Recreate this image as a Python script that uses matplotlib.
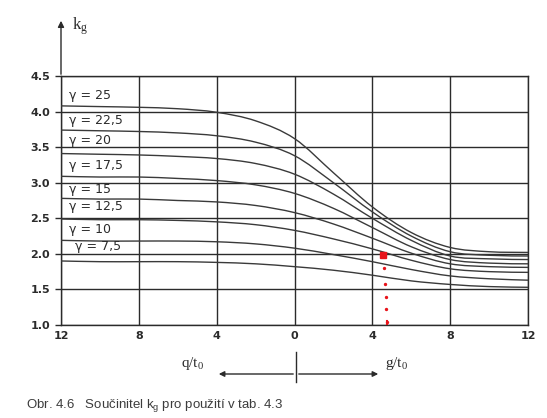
import numpy as np
import matplotlib
matplotlib.use("Agg")
import matplotlib.pyplot as plt
from matplotlib.path import Path
from matplotlib.patches import PathPatch

# ---------------- data ----------------
x_values = [-12, -10, -8, -6, -4, -2, 0, 2, 4, 6, 8, 10, 12]
gamma_names = ["γ = 25", "γ = 22,5", "γ = 20", "γ = 17,5",
               "γ = 15", "γ = 12,5", "γ = 10", "γ = 7,5"]
kg_25   = [4.08, 4.07, 4.06, 4.04, 3.99, 3.87, 3.62, 3.14, 2.66, 2.30, 2.09, 2.03, 2.02]
kg_22_5 = [3.74, 3.73, 3.72, 3.70, 3.66, 3.57, 3.38, 3.00, 2.59, 2.25, 2.03, 1.98, 1.97]
kg_20   = [3.41, 3.40, 3.39, 3.37, 3.34, 3.27, 3.12, 2.84, 2.50, 2.19, 1.97, 1.93, 1.92]
kg_17_5 = [3.09, 3.08, 3.08, 3.06, 3.03, 2.97, 2.85, 2.64, 2.37, 2.10, 1.92, 1.87, 1.86]
kg_15   = [2.78, 2.77, 2.77, 2.75, 2.73, 2.68, 2.58, 2.42, 2.22, 2.01, 1.86, 1.82, 1.81]
kg_12_5 = [2.49, 2.48, 2.48, 2.47, 2.45, 2.41, 2.33, 2.21, 2.07, 1.91, 1.79, 1.75, 1.74]
kg_10   = [2.19, 2.18, 2.18, 2.18, 2.17, 2.14, 2.08, 1.99, 1.89, 1.78, 1.69, 1.65, 1.63]
kg_7_5  = [1.90, 1.89, 1.89, 1.89, 1.88, 1.86, 1.82, 1.77, 1.70, 1.62, 1.57, 1.54, 1.53]
kg_series = [kg_25, kg_22_5, kg_20, kg_17_5, kg_15, kg_12_5, kg_10, kg_7_5]

y_ticks = [1.0, 1.5, 2.0, 2.5, 3.0, 3.5, 4.0, 4.5]
y_tick_labels = ["1.0", "1.5", "2.0", "2.5", "3.0", "3.5", "4.0", "4.5"]
x_ticks = [-12, -8, -4, 0, 4, 8, 12]
x_tick_labels = ["12", "8", "4", "0", "4", "8", "12"]

marker_point = (4.55, 1.98)          # red mark
marker_drop_x = [4.62, 4.65, 4.68, 4.72, 4.75]
marker_drop_y = [1.80, 1.58, 1.40, 1.22, 1.04]

# ---------------- layout ----------------
W, H = 547, 418
def fx(px): return px / W
def fy(py): return 1 - py / H

label_pos = [(-11.6, 4.22), (-11.6, 3.88), (-11.6, 3.60), (-11.6, 3.24),
             (-11.6, 2.90), (-11.6, 2.66), (-11.6, 2.34), (-11.3, 2.10)]

ink = "#2b2b2b"
plt.rcParams["font.family"] = ["DejaVu Sans"]
plt.rcParams["mathtext.fontset"] = "dejavusans"

fig = plt.figure(figsize=(W / 100, H / 100), dpi=100)
fig.patch.set_facecolor("white")
ax = fig.add_axes([fx(61), fy(325), (528 - 61) / W, (325 - 76) / H])
ax.set_xlim(-12, 12)
ax.set_ylim(1.0, 4.5)

for s in ["top", "right", "bottom", "left"]:
    ax.spines[s].set_color(ink)
    ax.spines[s].set_linewidth(1.0)

ax.set_yticks(y_ticks)
ax.set_yticklabels(y_tick_labels)
ax.set_xticks(x_ticks)
ax.set_xticklabels(x_tick_labels)
ax.tick_params(axis="y", length=4, width=1.0, color=ink, pad=4,
               labelsize=8, labelcolor=ink)
ax.tick_params(axis="x", length=0, pad=4, labelsize=8, labelcolor=ink)
for t in ax.get_xticklabels() + ax.get_yticklabels():
    t.set_fontweight("bold")
ax.grid(True, color=ink, linewidth=1.0)
ax.set_axisbelow(True)

# smooth curves through the read points (Catmull-Rom as cubic Bezier)
def smooth_path(xs, ys):
    P = np.column_stack([xs, ys]).astype(float)
    P = np.vstack([P[0], P, P[-1]])
    verts = [tuple(P[1])]
    codes = [Path.MOVETO]
    for i in range(1, len(P) - 2):
        p0, p1, p2, p3 = P[i - 1], P[i], P[i + 1], P[i + 2]
        c1 = p1 + (p2 - p0) / 6.0
        c2 = p2 - (p3 - p1) / 6.0
        verts += [tuple(c1), tuple(c2), tuple(p2)]
        codes += [Path.CURVE4] * 3
    return Path(verts, codes)

for ys in kg_series:
    ax.add_patch(PathPatch(smooth_path(x_values, ys), fill=False,
                           edgecolor="#3a3a3a", linewidth=1.0, zorder=3))

for name, (lx, ly) in zip(gamma_names, label_pos):
    ax.text(lx, ly, name, fontsize=9, color=ink, va="center", ha="left", zorder=4)

# red mark
ax.plot([marker_point[0]], [marker_point[1]], marker="s", markersize=5,
        color="#e8141b", zorder=5)
ax.plot(marker_drop_x, marker_drop_y, linestyle="none", marker="o",
        markersize=1.4, color="#e8141b", zorder=5)
ax.plot([4.76, 4.76], [1.0, 1.05], color="#e8141b", linewidth=1.5, zorder=5)

# y-axis arrow + k_g
fig.add_artist(matplotlib.patches.FancyArrowPatch(
    (fx(61), fy(77)), (fx(61), fy(18)), transform=fig.transFigure,
    arrowstyle="-|>", mutation_scale=9, color=ink, linewidth=1.0))
fig.text(fx(72), fy(26), r"$\mathregular{k_g}$", fontsize=12,
         family="Liberation Serif", color=ink, va="center", ha="left")

# bottom direction arrow
fig.text(fx(193), fy(363), r"$\mathregular{q/t_0}$", fontsize=11,
         family="Liberation Serif", color=ink, va="center", ha="center")
fig.text(fx(397), fy(363), r"$\mathregular{g/t_0}$", fontsize=11,
         family="Liberation Serif", color=ink, va="center", ha="center")
fig.add_artist(matplotlib.patches.FancyArrowPatch(
    (fx(296), fy(374)), (fx(216), fy(374)), transform=fig.transFigure,
    arrowstyle="-|>", mutation_scale=8, color=ink, linewidth=1.0))
fig.add_artist(matplotlib.patches.FancyArrowPatch(
    (fx(296), fy(374)), (fx(381), fy(374)), transform=fig.transFigure,
    arrowstyle="-|>", mutation_scale=8, color=ink, linewidth=1.0))
fig.add_artist(matplotlib.lines.Line2D([fx(296), fx(296)], [fy(352), fy(382)],
                                       color=ink, linewidth=1.0))

# caption
fig.text(fx(26), fy(405), r"Obr. 4.6   Součinitel k$_\mathregular{g}$ pro použití v tab. 4.3",
         fontsize=9.5, family="Liberation Sans", color="#3c3c3c",
         va="center", ha="left")

fig.savefig("out.png", dpi=100, facecolor="white")
